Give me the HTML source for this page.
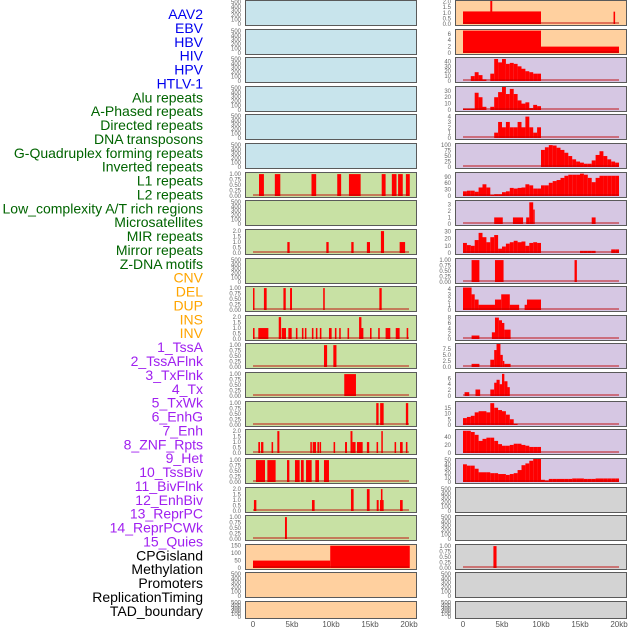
<!DOCTYPE html>
<html><head><meta charset="utf-8"><style>
html,body{margin:0;padding:0;background:#fff;}
svg{display:block;font-family:"Liberation Sans",sans-serif;}
</style></head><body>
<svg id="chart" width="630" height="630" viewBox="0 0 630 630"></svg>
<script>
const trackLabels = ["AAV2","EBV","HBV","HIV","HPV","HTLV-1","Alu repeats","A-Phased repeats","Directed repeats","DNA transposons","G-Quadruplex forming repeats","Inverted repeats","L1 repeats","L2 repeats","Low_complexity A/T rich regions","Microsatellites","MIR repeats","Mirror repeats","Z-DNA motifs","CNV","DEL","DUP","INS","INV","1_TssA","2_TssAFlnk","3_TxFlnk","4_Tx","5_TxWk","6_EnhG","7_Enh","8_ZNF_Rpts","9_Het","10_TssBiv","11_BivFlnk","12_EnhBiv","13_ReprPC","14_ReprPCWk","15_Quies","CPGisland","Methylation","Promoters","ReplicationTiming","TAD_boundary"];
const labelGroups = [6,13,5,15,5];
const xTicksKb = [0,5,10,15,20];
const xTickLabels = ["0","5kb","10kb","15kb","20kb"];
const emptyTicks = [0,100,200,300,400,500];
const binTicks = [0,0.25,0.5,0.75,1.0];
const twoTicks = [0,0.5,1.0,1.5,2.0];

// left column data (segments: [startKb, endKb, value])
const L6 = [[0.77,1.4,1],[2.8,3.5,1],[7.5,8.1,1],[10.8,11.3,1],[12.3,13.8,1],[16.5,17.0,1],[17.8,18.4,1],[18.6,19.2,1],[19.6,20.1,1]];
const L8 = [[4.4,4.7,1],[9.4,9.7,1],[12.6,12.9,1],[14.6,15.0,1],[16.4,16.8,2],[18.8,19.5,1]];
const L10 = [[0,0.15,1],[1.4,1.75,1],[3.9,4.2,1],[4.75,5.0,1],[9.0,9.2,1],[16.2,16.5,1]];
const L11 = [[0,0.2,1],[0.68,1.97,1],[3.3,3.6,2],[3.68,4.23,1],[4.53,4.96,1],[5.5,5.7,1],[6.27,6.47,1],[6.65,6.85,1],[7.55,7.75,1],[8.06,8.26,1],[8.57,8.77,1],[9.74,10.08,1],[10.5,10.7,1],[11.05,11.25,1],[12.12,12.32,1],[13.6,13.9,2],[13.8,14.15,1],[15.0,15.2,1],[16.05,16.25,1],[17.0,17.6,1],[18.3,18.8,1],[19.7,19.9,1]];
const L12 = [[9.1,9.5,1],[10.3,10.7,1]];
const L13 = [[11.7,13.2,1]];
const L14 = [[15.8,16.1,1],[16.3,16.75,1],[19.6,19.9,1]];
const L15 = [[0.68,0.9,1],[1.03,1.33,1],[2.38,2.58,1],[3.12,3.38,2],[7.35,7.52,1],[7.65,8.08,1],[8.25,8.46,1],[8.53,8.73,1],[10.33,10.53,1],[11.8,12.05,1],[12.5,12.75,2],[12.75,13.15,1],[13.33,14.06,1],[14.6,14.9,1],[15.84,16.04,1],[16.45,16.6,2],[18.15,18.35,1],[18.85,19.19,1],[19.6,19.8,1]];
const L16 = [[0.38,1.54,1],[1.84,2.9,1],[4.36,4.66,1],[5.38,5.98,1],[6.15,6.5,1],[6.8,7.52,1],[7.99,8.46,1],[9.1,9.74,1]];
const L17 = [[0.12,0.43,1],[7.56,7.9,1],[12.56,12.9,2],[14.6,14.95,2],[15.86,16.11,1],[16.28,16.75,1],[16.4,16.6,2],[18.85,19.19,1]];
const L18 = [[4.1,4.35,1]];
const L19 = [[0,9.9,50],[9.9,20.1,150]];

// right column data
const R0 = [[0,10,1.12],[3.5,3.75,2.05],[19.3,19.5,1.1]];
const R1 = [[0,10,7],[10,20,2]];
const R2bins = [0,0,10,18,12,3,0,15,45,38,45,35,37,35,30,25,20,18,15,15];
const R3bins = [2,2,2,27,20,5,0,5,20,28,36,25,33,25,15,10,12,3,8,6];
const R4bins = [0,0,0,0,0,0,0,0,1,3,2,3,2,2,3,2,4,2,1,2];
const R5bins = [0,0,0,0,0,0,0,0,0,0,0,0,0,0,0,0,0,0,0,0,78,90,100,98,88,78,65,50,35,25,20,15,15,30,55,72,50,35,25,20];
const R6bins = [22,25,25,20,40,55,40,5,8,8,18,22,38,35,38,40,55,50,35,35,50,50,62,70,75,85,95,100,100,100,105,100,85,65,85,95,95,95,95,95];
const R7 = [[4.0,5.1,1],[6.4,7.7,1],[8.1,8.5,1],[8.5,9.0,3.3],[9.0,9.1,2.2],[16.5,17.0,1]];
const R8bins = [14,11,10,18,28,22,15,22,25,6,9,13,15,17,15,16,10,14,15,14,0,0,0,0,0,0,0,0,0,0,3,3,3,3,0,0,0,0,5,5];
const R9 = [[1.1,2.1,1],[4.1,5.2,1],[14.3,14.6,1]];
const R10 = [[0,1.1,4.3],[1.1,1.5,3],[1.5,2,2],[2,4.1,1],[4.1,4.9,2],[4.9,6,3],[6,7.2,1],[7.9,8.2,1],[8.2,10,2]];
const R11 = [[1.1,2.1,1.3],[3.7,4.1,2.5],[4.1,4.6,8],[4.6,5.0,7],[5.0,5.3,6],[5.3,6.1,3.5]];
const R12 = [[1.1,2.1,1.3],[3.5,4.0,3],[4.0,4.3,7],[4.3,4.8,9.5],[4.8,5.1,5],[5.1,5.3,2.5],[5.3,6.1,1.3]];
const R13 = [[0.2,0.8,1.3],[1.6,2.2,2.2],[3.5,4.0,2.2],[4.0,4.3,4.5],[4.3,4.7,5.5],[4.7,5.0,4],[5.0,5.3,7.5],[5.3,5.7,5],[5.7,6.0,3]];
const R14bins = [6,7,8,11,12,12,11,19,15,13,12,9,5,1];
const R15bins = [55,55,52,45,30,35,38,38,30,22,18,18,20,23,23,20,18,15,15,15];
const R16bins = [40,37,37,30,22,22,22,20,20,18,18,16,18,20,27,38,42,48,52,52,5,3,7,7,7,7,7,7,8,8,8,7,7,7,8,8,8,8,8,8];
const R18 = [[3.9,4.3,1]];

const BG = {blue:"#c8e4ec",green:"#c8e1a4",orange:"#ffd09f",purple:"#d6c7e3",gray:"#d3d3d3"};
function bins(a){const s=[];a.forEach((v,i)=>{if(v>0)s.push([i*0.5,i*0.5+0.5,v]);});return s;}

const panels = [];
for(let r=0;r<6;r++) panels.push({row:r,col:0,bg:"blue",ymax:520,ticks:emptyTicks,data:[],fmt:0});
const leftGreen = [[L6,1.05,binTicks,2],[[],520,emptyTicks,0],[L8,2.1,twoTicks,1],[[],520,emptyTicks,0],[L10,1.05,binTicks,2],[L11,2.1,twoTicks,1],[L12,1.05,binTicks,2],[L13,1.05,binTicks,2],[L14,1.05,binTicks,2],[L15,2.1,twoTicks,1],[L16,1.05,binTicks,2],[L17,2.1,twoTicks,1],[L18,1.05,binTicks,2]];
leftGreen.forEach((p,i)=>panels.push({row:6+i,col:0,bg:"green",data:p[0],ymax:p[1],ticks:p[2],fmt:p[3]}));
panels.push({row:19,col:0,bg:"orange",data:L19,ymax:155,ticks:[0,50,100,150],fmt:0});
panels.push({row:20,col:0,bg:"orange",data:[],ymax:520,ticks:emptyTicks,fmt:0});
panels.push({row:21,col:0,bg:"orange",data:[],ymax:520,ticks:emptyTicks,fmt:0,short:true});
panels.push({row:0,col:1,bg:"orange",data:R0,ymax:2.05,ticks:twoTicks,fmt:1});
panels.push({row:1,col:1,bg:"orange",data:R1,ymax:7.2,ticks:[0,2,4,6],fmt:0});
const rightPurple = [[bins(R2bins),47,[0,10,20,30,40],0],[bins(R3bins),36,[0,10,20,30],0],[bins(R4bins),4.3,[0,1,2,3,4],0],[bins(R5bins),105,[0,25,50,75,100],0],[bins(R6bins),108,[0,30,60,90],0],[R7,3.5,[0,1,2,3],0],[bins(R8bins),32,[0,10,20,30],0],[R9,1.05,binTicks,2],[R10,4.4,[0,1,2,3,4],0],[R11,8.6,[0,2,4,6,8],0],[R12,9.5,[0,2.5,5,7.5],1],[R13,7.8,[0,2,4,6],0],[bins(R14bins),20,[0,5,10,15],0],[bins(R15bins),57,[0,20,40],0],[bins(R16bins),52,[0,10,20,30,40,50],0]];
rightPurple.forEach((p,i)=>panels.push({row:2+i,col:1,bg:"purple",data:p[0],ymax:p[1],ticks:p[2],fmt:p[3]}));
panels.push({row:17,col:1,bg:"gray",data:[],ymax:520,ticks:emptyTicks,fmt:0});
panels.push({row:18,col:1,bg:"gray",data:[],ymax:520,ticks:emptyTicks,fmt:0});
panels.push({row:19,col:1,bg:"gray",data:R18,ymax:1.05,ticks:binTicks,fmt:2});
panels.push({row:20,col:1,bg:"gray",data:[],ymax:520,ticks:emptyTicks,fmt:0});
panels.push({row:21,col:1,bg:"gray",data:[],ymax:520,ticks:emptyTicks,fmt:0,short:true});

const NS="http://www.w3.org/2000/svg";
const svg=document.getElementById('chart');
function mk(tag,attrs,parent){const e=document.createElementNS(NS,tag);for(const k in attrs)e.setAttribute(k,attrs[k]);(parent||svg).appendChild(e);return e;}
const colX=[245,455], PW=171, KB=7.8;
function xs(col,kb){return colX[col]+8+kb*KB;}

const gcols=["#0000ee","#006400","#ffa500","#a020f0","#000000"];
let gi=0,gc=0;
trackLabels.forEach((t,i)=>{
  const e=mk('text',{x:203,y:14+i*13.88+5,'text-anchor':'end','font-size':'14',fill:gcols[gi]});
  e.textContent=t;
  
  
  gc++; if(gc>=labelGroups[gi]){gi++;gc=0;}
});

panels.forEach(p=>{
  const top=Math.round(p.row*28.62), h=p.short?17:25, x0=colX[p.col];
  const g=mk('g',{});
  
  
  mk('rect',{x:x0+0.5,y:top+0.5,width:PW,height:h,fill:BG[p.bg],stroke:"#5a5a5a",'stroke-width':1},g);
  const base=top+h-1, span=h-2;
  const ys=v=>base-v/p.ymax*span;
  p.ticks.forEach(t=>{
    const e=mk('text',{x:x0-4,y:ys(t)+2,'text-anchor':'end','font-size':'6',fill:"#666"},g);
    e.textContent=t.toFixed(p.fmt);
    
    
  });
  p.data.forEach(s=>{
    const xa=xs(p.col,s[0]), xb=xs(p.col,s[1]);
    const r=mk('rect',{x:xa,y:ys(s[2]),width:Math.max(1.5,xb-xa),height:base-ys(s[2]),fill:"#ff0000"},g);
    
    
  });
  if(p.data.length){
    const bl=mk('line',{x1:xs(p.col,0),x2:xs(p.col,20),y1:base-1,y2:base-1,stroke:"rgba(190,0,0,0.45)",'stroke-width':2},g);
    
    
  }
});

[0,1].forEach(c=>{
  xTicksKb.forEach((k,i)=>{
    const e=mk('text',{x:xs(c,k),y:627,'text-anchor':'middle','font-size':'8',fill:"#555"});
    e.textContent=xTickLabels[i];
    
    
  });
});
</script>
</body></html>
